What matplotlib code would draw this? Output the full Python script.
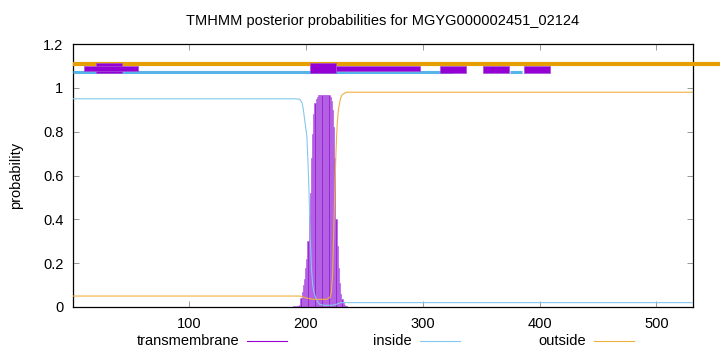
import matplotlib
matplotlib.use("Agg")
import matplotlib.pyplot as plt
from matplotlib.lines import Line2D

plt.rcParams['font.family'] = ['Liberation Sans', 'DejaVu Sans']

# posterior curves (breakpoints)
inside_x = [1, 190, 195, 197, 198, 199, 200, 201, 202, 203, 204, 205, 206, 207, 208,
            210, 212, 215, 223, 225, 228, 230, 531]
inside_y = [0.95, 0.95, 0.948, 0.93, 0.90, 0.86, 0.82, 0.78, 0.66, 0.50, 0.30, 0.17, 0.10,
            0.07, 0.05, 0.025, 0.012, 0.008, 0.008, 0.01, 0.016, 0.02, 0.02]

outside_x = [1, 195, 200, 206, 218, 221, 222, 223, 224, 225, 226, 227, 228, 229, 230,
             231, 233, 235, 531]
outside_y = [0.05, 0.05, 0.042, 0.035, 0.035, 0.045, 0.07, 0.15, 0.35, 0.55, 0.72, 0.84,
             0.90, 0.93, 0.955, 0.967, 0.975, 0.98, 0.98]

# transmembrane impulses
tm_x = [190, 192, 193, 194, 195, 196, 197, 198, 199, 200, 201, 202, 203, 204, 205, 206,
        207, 208, 209, 210, 211, 212, 213, 214, 215, 216, 217, 218, 219, 220, 221, 222,
        223, 224, 225, 226, 227, 228, 229, 230, 231, 232, 233, 234, 235, 236]
tm_y = [0.003, 0.004, 0.005, 0.005, 0.01, 0.04, 0.07, 0.10, 0.13, 0.18, 0.22, 0.30, 0.42,
        0.52, 0.68, 0.79, 0.88, 0.93, 0.95, 0.96, 0.966, 0.966, 0.966, 0.966, 0.966,
        0.966, 0.966, 0.966, 0.966, 0.966, 0.96, 0.94, 0.90, 0.82, 0.68, 0.40, 0.28,
        0.18, 0.11, 0.06, 0.035, 0.018, 0.01, 0.005, 0.003, 0.002]

# topology tracks at the top
outside_track = [(1, 555)]
inside_track = [(1, 326), (375, 385)]
tm_boxes_tall = [(21, 43), (204, 226)]
tm_boxes_mid = [(315, 337), (352, 374), (387, 409)]
tm_boxes_short = [(10, 57), (226, 298)]

fig = plt.figure(figsize=(7.2, 3.52), dpi=100)
ax = fig.add_axes([73 / 720, 45 / 352, (692.7 - 73) / 720, 263 / 352])

ax.bar(tm_x, tm_y, width=1.0, color='#9a28d6', edgecolor='#b869e6', linewidth=0.5, zorder=2)
ax.plot(inside_x, inside_y, color='#84c8ee', lw=0.8, zorder=3)
ax.plot(outside_x, outside_y, color='#f0b040', lw=0.8, zorder=3)

for a, b in outside_track:
    ax.plot([a, b], [1.109, 1.109], color='#e69f00', lw=3.0, solid_capstyle='butt',
            clip_on=False, zorder=4)
for a, b in inside_track:
    ax.plot([a, b], [1.071, 1.071], color='#56b4e9', lw=2.2, solid_capstyle='butt', zorder=4)
for a, b in tm_boxes_tall:
    ax.fill_between([a, b], 1.066, 1.115, color='#9400d3', ec='#a850d8', lw=0.5, zorder=5)
for a, b in tm_boxes_mid:
    ax.fill_between([a, b], 1.066, 1.100, color='#9400d3', ec='#a850d8', lw=0.5, zorder=5)
for a, b in tm_boxes_short:
    ax.fill_between([a, b], 1.078, 1.0995, color='#9400d3', ec='#a850d8', lw=0.5, zorder=5)

ax.set_xlim(1, 531)
ax.set_ylim(0, 1.2)
ax.set_xticks([100, 200, 300, 400, 500])
ax.set_yticks([0, 0.2, 0.4, 0.6, 0.8, 1.0, 1.2])
ax.set_yticklabels(['0', '0.2', '0.4', '0.6', '0.8', '1', '1.2'])
ax.tick_params(direction='in', length=4, width=0.6, color='#888888', top=True, right=True,
               labelsize=10.5, pad=7)
for s in ax.spines.values():
    s.set_linewidth(0.9)
ax.set_ylabel('probability', fontsize=10.5, labelpad=14)
ax.set_title('TMHMM posterior probabilities for MGYG000002451_02124', fontsize=10.5, pad=14)

# legend row under the axis
legend_items = [('transmembrane', '#9400d3', 239), ('inside', '#84c8ee', 412),
                ('outside', '#f0b040', 586)]
ly = (352 - 341) / 352
for label, col, xr in legend_items:
    fig.text(xr / 720, ly, label, ha='right', va='center', fontsize=10.5)
    fig.add_artist(Line2D([(xr + 8) / 720, (xr + 48) / 720], [ly, ly], color=col, lw=0.8))

fig.savefig('out.png', dpi=100)
